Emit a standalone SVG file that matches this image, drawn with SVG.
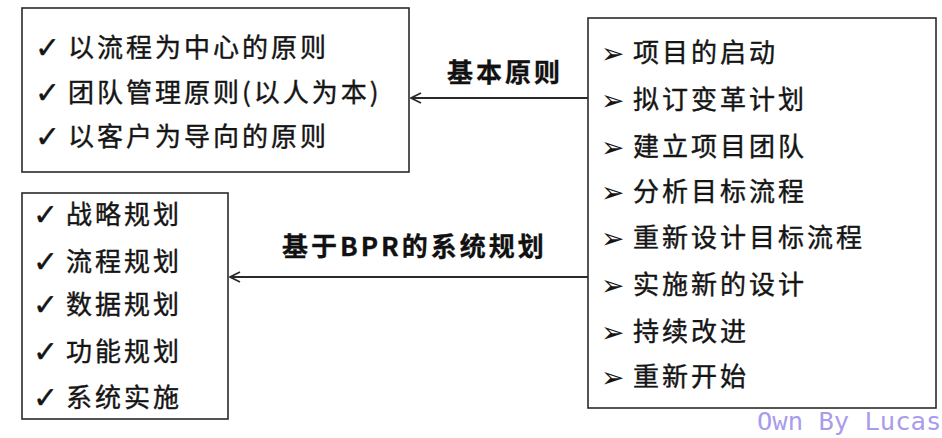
<svg xmlns="http://www.w3.org/2000/svg" width="942" height="438" viewBox="0 0 942 438">
<defs>
<style>
.box{fill:#fff;stroke:#2a2a2a;stroke-width:1.6}
.t{font-family:"Noto Sans CJK SC","Noto Sans",sans-serif;font-size:26px;letter-spacing:3px;fill:#151515;stroke:#151515;stroke-width:0.4}
.lb{font-family:"Noto Sans CJK SC","Noto Sans",sans-serif;font-size:26px;font-weight:bold;letter-spacing:3px;fill:#111;stroke:#111;stroke-width:0.3}
.ck{font-family:"DejaVu Sans",sans-serif;font-size:30px;fill:#151515;stroke:#151515;stroke-width:0.4}
.ar{font-family:"DejaVu Sans",sans-serif;font-size:28px;fill:#151515}
.ln{stroke:#2a2a2a;stroke-width:1.8;fill:none}
.wm{font-family:"DejaVu Sans Mono","Liberation Mono",monospace;font-size:25.5px;fill:#a99cea}
</style>
<marker id="ah" viewBox="0 0 12 12" refX="11" refY="6" markerWidth="12" markerHeight="12" markerUnits="userSpaceOnUse" orient="auto">
<path d="M1,1 L11,6 L1,11" fill="none" stroke="#2a2a2a" stroke-width="1.8"/>
</marker>
</defs>
<rect width="942" height="438" fill="#fff"/>
<g id="principles">
<rect class="box" x="22" y="8" width="387" height="164"/>
<text class="ck" x="35" y="58">✓</text><text class="t" x="68" y="57">以流程为中心的原则</text>
<text class="ck" x="35" y="103">✓</text><text class="t" x="68" y="102">团队管理原则(以人为本)</text>
<text class="ck" x="35" y="147">✓</text><text class="t" x="68" y="146">以客户为导向的原则</text>
</g>
<g id="planning">
<rect class="box" x="22" y="193" width="206" height="226"/>
<text class="ck" x="33" y="225">✓</text><text class="t" x="66" y="224">战略规划</text>
<text class="ck" x="33" y="272">✓</text><text class="t" x="66" y="271">流程规划</text>
<text class="ck" x="33" y="315">✓</text><text class="t" x="66" y="314">数据规划</text>
<text class="ck" x="33" y="362">✓</text><text class="t" x="66" y="361">功能规划</text>
<text class="ck" x="33" y="408">✓</text><text class="t" x="66" y="407">系统实施</text>
</g>
<g id="steps">
<rect class="box" x="588" y="18" width="348" height="390"/>
<text class="ar" x="601" y="63">➢</text><text class="t" x="633" y="62">项目的启动</text>
<text class="ar" x="601" y="110">➢</text><text class="t" x="633" y="109">拟订变革计划</text>
<text class="ar" x="601" y="157">➢</text><text class="t" x="633" y="156">建立项目团队</text>
<text class="ar" x="601" y="202">➢</text><text class="t" x="633" y="201">分析目标流程</text>
<text class="ar" x="601" y="248">➢</text><text class="t" x="633" y="247">重新设计目标流程</text>
<text class="ar" x="601" y="295">➢</text><text class="t" x="633" y="294">实施新的设计</text>
<text class="ar" x="601" y="342">➢</text><text class="t" x="633" y="341">持续改进</text>
<text class="ar" x="601" y="387">➢</text><text class="t" x="633" y="386">重新开始</text>
</g>
<g id="connectors">
<line class="ln" x1="588" y1="98" x2="411" y2="98" marker-end="url(#ah)"/>
<text class="lb" x="447" y="82">基本原则</text>
<line class="ln" x1="588" y1="277" x2="230" y2="277" marker-end="url(#ah)"/>
<text class="lb" x="282" y="256">基于BPR的系统规划</text>
</g>
<text class="wm" x="757" y="430">Own By Lucas</text>
</svg>
